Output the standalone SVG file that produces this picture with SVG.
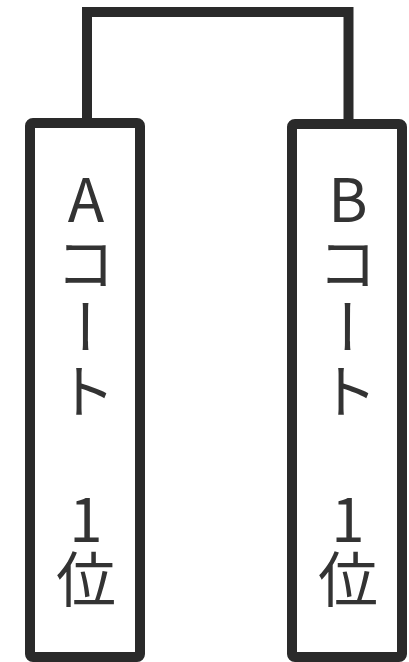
<svg xmlns="http://www.w3.org/2000/svg" width="409" height="662" viewBox="0 0 409 662">
<style>
.box{fill:#fff;stroke:#2a2a2a;stroke-width:10;stroke-linejoin:round}
.conn{fill:none;stroke:#2a2a2a;stroke-width:10;stroke-linejoin:miter}
.lbl{font-family:"Noto Sans CJK JP","Noto Sans",sans-serif;font-size:60px;fill:#333;writing-mode:vertical-rl;text-orientation:upright;text-anchor:start}
.top{letter-spacing:4px}
</style>
<rect width="409" height="662" fill="#fff"/>
<g id="connectors">
<path class="conn" d="M87,123 V12 H348.5 V124"/>
</g>
<g id="nodeA">
<rect class="box" x="30" y="123" width="110" height="534" rx="3"/>
<text class="lbl top" x="86" y="169">Aコート</text>
<text class="lbl" x="86" y="489">1位</text>
</g>
<g id="nodeB">
<rect class="box" x="292" y="124" width="110" height="533" rx="3"/>
<text class="lbl top" x="348" y="169">Bコート</text>
<text class="lbl" x="348" y="489">1位</text>
</g>
</svg>
